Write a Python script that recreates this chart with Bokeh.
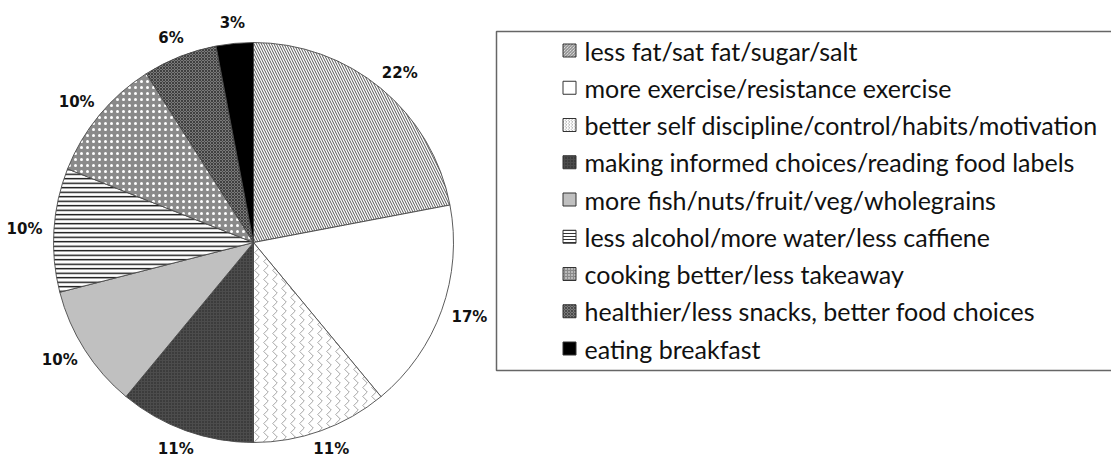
import math
from bokeh.plotting import figure
from bokeh.models import ColumnDataSource, Range1d
from bokeh.core.properties import value
from bokeh.embed import file_html
from bokeh.resources import INLINE

categories = [
    "less fat/sat fat/sugar/salt",
    "more exercise/resistance exercise",
    "better self discipline/control/habits/motivation",
    "making informed choices/reading food labels",
    "more fish/nuts/fruit/veg/wholegrains",
    "less alcohol/more water/less caffiene",
    "cooking better/less takeaway",
    "healthier/less snacks, better food choices",
    "eating breakfast",
]
percents = [22, 17, 11, 11, 10, 10, 10, 6, 3]
labels = ["22%", "17%", "11%", "11%", "10%", "10%", "10%", "6%", "3%"]

fill_colors = ["#ffffff", "#ffffff", "#ffffff", "#4c4c4c", "#c0c0c0", "#ffffff", "#8a8a8a", "#7a7a7a", "#000000"]
hatch_patterns = ["\\", " ", ">", ".", " ", "-", ".", "x", " "]
hatch_colors = ["#555555", "#ffffff", "#9a9a9a", "#222222", "#ffffff", "#000000", "#ffffff", "#404040", "#000000"]
hatch_scales = [5.0, 6.0, 9.0, 3.0, 6.0, 4.5, 6.0, 3.0, 6.0]
hatch_weights = [1.0, 1.0, 0.9, 1.0, 1.0, 1.3, 1.2, 1.0, 1.0]

W, H = 1111, 462
p = figure(width=W, height=H, output_backend="svg", toolbar_location=None,
           x_range=Range1d(0, W), y_range=Range1d(-H, 0),
           min_border=0)
p.axis.visible = False
p.grid.visible = False
p.outline_line_color = None
p.background_fill_color = "white"

cx, cy, R = 253, -242, 200
gap = 12
total = sum(percents)
starts, ends, lx, ly = [], [], [], []
cum = 0.0
for v, lab in zip(percents, labels):
    a0 = math.pi / 2 - 2 * math.pi * cum / total
    cum += v
    a1 = math.pi / 2 - 2 * math.pi * cum / total
    starts.append(a0)
    ends.append(a1)
    mid = (a0 + a1) / 2
    ux, uy = math.cos(mid), math.sin(mid)
    hw = 5.5 * len(lab) + 1
    hh = 8
    lx.append(cx + (R + gap) * ux + hw * ux)
    ly.append(cy + (R + gap) * uy + hh * uy)

src = ColumnDataSource(dict(start=starts, end=ends, fill=fill_colors, hp=hatch_patterns,
                            hc=hatch_colors, hs=hatch_scales, hw=hatch_weights,
                            lx=lx, ly=ly, lab=labels))
p.wedge(x=cx, y=cy, radius=R, start_angle="start", end_angle="end", direction="clock",
        source=src, fill_color="fill", hatch_pattern="hp", hatch_color="hc",
        hatch_scale="hs", hatch_weight="hw", line_color="#4a4a4a", line_width=0.9)
p.text(x="lx", y="ly", text="lab", source=src, text_align="center", text_baseline="middle",
       text_font=value("DejaVu Sans"), text_font_style="bold", text_font_size="15px",
       text_color="#111111")

# legend
p.quad(left=496, right=1130, top=-31, bottom=-370, fill_color="white",
       line_color="#666666", line_width=1.5)
n = len(categories)
row_y = [-(50 + i * (348 - 50) / (n - 1)) for i in range(n)]
lsrc = ColumnDataSource(dict(y=row_y, fill=fill_colors, hp=hatch_patterns, hc=hatch_colors,
                             hs=[min(s, 3.0) for s in hatch_scales], hw=hatch_weights,
                             txt=categories))
p.rect(x=569, y="y", width=13, height=13, source=lsrc, fill_color="fill", hatch_pattern="hp",
       hatch_color="hc", hatch_scale="hs", hatch_weight=0.8, line_color="#333333", line_width=1)
p.text(x=584, y="y", text="txt", source=lsrc, text_baseline="middle", text_align="left",
       text_font=value("Lato"), text_font_size="25px", text_color="#111111")

open("out.html", "w").write(file_html(p, INLINE))
